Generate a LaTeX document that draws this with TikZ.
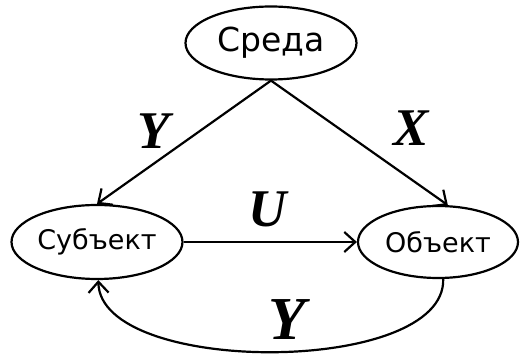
\documentclass[tikz,border=0pt]{standalone}
\usepackage{fontspec}
\setmainfont{DejaVu Sans}
\newfontfamily\lblfont{Liberation Serif}
\usetikzlibrary{shapes.geometric,arrows.meta}
\tikzset{
  ent/.style={draw, ellipse, line width=2.2pt, inner sep=0pt},
  conn/.style={line width=2.2pt, -{Straight Barb[length=11pt,width=20pt,line width=2.2pt]}},
  lbl/.style={inner sep=0pt}
}
\begin{document}
\begin{tikzpicture}[x=1pt,y=-1pt]
\useasboundingbox (0,0) rectangle (523,358);
\node[ent, minimum width=171pt, minimum height=73pt, font=\fontsize{33}{36}\selectfont] (sreda) at (271,43) {Среда};
\node[ent, minimum width=171pt, minimum height=74pt, font=\fontsize{27}{30}\selectfont] (sub) at (97,242) {Субъект};
\node[ent, minimum width=160pt, minimum height=72pt, font=\fontsize{27}{30}\selectfont] (obj) at (438,242) {Объект};
\draw[conn] (sreda.south) -- (sub.north);
\draw[conn] (sreda.south) -- (obj.75);
\draw[conn] (sub.east) -- (obj.west);
\draw[conn] (obj.-82) .. controls (446,376) and (100,376) .. (sub.-88);
\node[lbl, font=\lblfont\bfseries\itshape\fontsize{53}{57}\selectfont] (ly) at (154,131) {Y};
\node[lbl, font=\lblfont\bfseries\itshape\fontsize{53}{57}\selectfont] (lx) at (411,128) {X};
\node[lbl, font=\lblfont\bfseries\itshape\fontsize{53}{57}\selectfont] (lu) at (268,209) {U};
\node[lbl, font=\lblfont\bfseries\itshape\fontsize{61}{65}\selectfont] (ly2) at (287,320) {Y};
\end{tikzpicture}
\end{document}
